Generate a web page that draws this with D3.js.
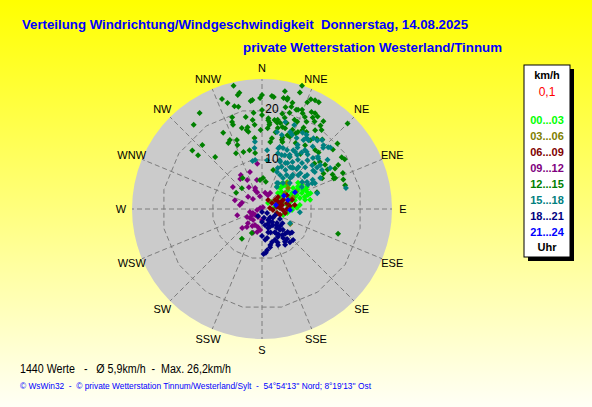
<!DOCTYPE html>
<html>
<head>
<meta charset="utf-8">
<script src="https://cdn.jsdelivr.net/npm/d3@7"></script>
<style>
  body { margin: 0; }
  svg { display: block; }
</style>
</head>
<body>
<div id="chart"></div>
<script>
// compass labels, clockwise from north
const directionLabels = ['N', 'NNE', 'NE', 'ENE', 'E', 'ESE', 'SE', 'SSE', 'S', 'SSW', 'SW', 'WSW', 'W', 'WNW', 'NW', 'NNW'];
const ringTicks = [10, 20];
const maxSpeed = 26;

const hourGroups = ['00...03', '03...06', '06...09', '09...12', '12...15', '15...18', '18...21', '21...24'];

// [direction in degrees, speed in km/h]
const points0003 = [
  [42, 5.9], [44, 6.6], [54, 6.4], [56, 7.5], [61, 8.2], [65, 9.0], [69, 9.6], [73, 9.6], [74, 8.9], [74, 7.9],
  [75, 6.8], [76, 5.8], [81, 5.1], [73, 4.2], [56, 4.3], [56, 5.0], [62, 6.8], [68, 7.5], [68, 8.6], [78, 8.8],
  [84, 7.6], [86, 6.2], [99, 5.1], [105, 3.1], [81, 2.6], [55, 2.4], [45, 1.7], [64, 10.0], [59, 9.3], [54, 8.9],
  [43, 7.4], [41, 5.5], [45, 4.5], [79, 9.8], [34, 5.4], [106, 4.4], [50, 5.2], [60, 5.6], [66, 6.1], [70, 7.0],
  [63, 7.9], [58, 8.5], [48, 7.0], [72, 10.2], [66, 9.6], [88, 7.0], [92, 6.0], [38, 6.4],
];
const points0306 = [
  [118, 6.4], [55, 5.6], [72, 5.9], [72, 3.8], [44, 7.2], [69, 6.6], [51, 6.7], [63, 7.6], [65, 4.7], [62, 3.0],
];
const points0609 = [
  [34, 2.2], [59, 2.3], [55, 3.2], [82, 3.0], [87, 3.6], [93, 4.2], [100, 4.7], [79, 4.1], [53, 4.0], [95, 2.2],
  [83, 1.6], [77, 5.1], [67, 4.6], [105, 3.1], [84, 5.6], [73, 6.3], [61, 5.7], [83, 6.6], [108, 3.8], [70, 4.0],
  [90, 5.0], [64, 3.5], [76, 3.3],
];
const points0912 = [
  [354, 9.1], [342, 7.8], [328, 8.0], [324, 7.4], [329, 5.1], [342, 4.4], [350, 5.9], [333, 6.5], [307, 7.3], [288, 5.7],
  [287, 4.2], [311, 3.7], [318, 2.7], [340, 4.0], [344, 3.5], [351, 2.6], [11, 3.3], [23, 3.0], [27, 3.6], [256, 2.5],
  [246, 2.0], [259, 1.0], [297, 0.4], [27, 0.4], [207, 1.8], [180, 2.2], [219, 2.8], [233, 3.0], [204, 3.5], [193, 3.7],
  [185, 4.2], [192, 4.7], [210, 3.9], [225, 4.0], [229, 1.8], [226, 5.5], [256, 5.1], [280, 4.5], [239, 2.3], [242, 3.4],
  [201, 5.1], [220, 4.7],
];
const points1215 = [
  [347, 25.3], [349, 23.7], [348, 23.3], [340, 23.4], [342, 22.3], [354, 21.7], [0, 22.8], [359, 22.2], [5, 22.7], [6, 22.5],
  [11, 24.0], [11, 22.6], [13, 22.8], [13, 22.4], [18, 25.9], [18, 24.5], [24, 24.0], [23, 23.2], [16, 22.1], [16, 21.3],
  [345, 21.3], [327, 22.9], [342, 19.3], [355, 19.3], [0, 19.8], [0, 18.8], [4, 18.2], [5, 17.3], [10, 18.1], [12, 19.5],
  [16, 20.0], [20, 21.1], [23, 20.8], [27, 21.8], [29, 21.9], [31, 21.6], [35, 21.4], [321, 21.7], [341, 18.4], [341, 17.8],
  [346, 16.7], [349, 16.1], [350, 16.6], [355, 16.9], [359, 15.8], [11, 16.5], [12, 17.6], [21, 17.0], [24, 16.6], [22, 16.0],
  [27, 17.7], [30, 17.8], [34, 19.0], [45, 24.2], [335, 15.2], [19, 15.6], [310, 18.2], [317, 17.5], [310, 16.7], [318, 14.0],
  [348, 12.0], [342, 12.0], [41, 18.4], [49, 20.0], [57, 19.0], [59, 19.3], [42, 15.9], [50, 18.5], [16, 8.1], [328, 7.3],
  [2, 6.2], [8, 5.5], [64, 15.7], [66, 17.7], [74, 17.3], [60, 14.2], [28, 24.2], [35, 20.4], [59, 15.3], [67, 15.6],
  [49, 13.9], [73, 11.5], [335, 12.3], [35, 13.4], [45, 16.0], [70, 17.3], [302, 6.1], [108, 16.0], [203, 5.2], [214, 7.2],
  [356, 5.8], [67, 15.9], [28, 11.8], [16, 14.4], [7, 13.5], [27, 14.8], [333, 17.1], [333, 14.8],
  [355, 21.9], [26, 24.2], [13, 20.9], [19, 21.0], [22, 21.4], [347, 21.0], [350, 18.7], [354, 17.9], [4, 17.8], [5, 16.9],
  [8, 18.0], [10, 17.5], [14, 18.8], [16, 17.9], [20, 19.0], [22, 18.8], [25, 20.3], [27, 19.6], [29, 20.9], [31, 20.4],
  [350, 15.7], [4, 16.2], [10, 15.6], [14, 16.9], [16, 16.8], [25, 17.0], [27, 18.3], [37, 19.8], [340, 14.7], [339, 13.7],
  [354, 14.3], [8, 14.3], [16, 14.9], [17, 14.0], [21, 15.5], [34, 15.4], [35, 16.8], [38, 17.8], [353, 11.3], [51, 14.9],
  [55, 15.4], [61, 16.7], [60, 17.6], [63, 13.5], [316, 5.8],
];
const points1518 = [
  [354, 13.5], [15, 18.0], [11, 15.7], [15, 15.3], [28, 17.3], [32, 16.8], [34, 16.6], [39, 17.6], [29, 14.7], [16, 12.9],
  [19, 12.9], [23, 12.8], [16, 11.6], [20, 11.5], [27, 12.2], [30, 13.2], [5, 11.8], [353, 12.3], [39, 16.1], [45, 17.3],
  [36, 14.6], [40, 14.2], [48, 18.4], [36, 12.2], [41, 12.2], [29, 10.5], [34, 10.1], [37, 10.3], [20, 10.4], [25, 9.3],
  [22, 8.0], [28, 7.7], [36, 8.4], [42, 8.4], [47, 9.9], [53, 10.7], [53, 12.8], [53, 13.8], [57, 14.3], [60, 11.7],
  [62, 13.2], [352, 9.9], [6, 9.8], [53, 16.4], [59, 15.9], [61, 9.1], [62, 10.4], [39, 6.7], [349, 9.8], [34, 7.5],
  [43, 8.8], [41, 10.6], [59, 10.5], [64, 11.8], [48, 15.1], [76, 17.3], [74, 11.5], [95, 7.6], [117, 6.3], [34, 5.3],
  [30, 6.0],
  [21, 18.0], [20, 16.4], [22, 16.0], [31, 17.3], [26, 15.8], [31, 16.1], [36, 17.5], [41, 18.3], [44, 17.7], [47, 18.1],
  [15, 12.6], [28, 13.3], [30, 14.2], [23, 11.7], [28, 11.8], [33, 12.9], [35, 13.8], [38, 14.5], [21, 10.1], [27, 10.3],
  [33, 11.2], [43, 13.3], [45, 14.4], [47, 15.3], [21, 8.8], [31, 9.1], [36, 10.2], [41, 11.1], [46, 12.0], [49, 13.3],
  [53, 14.6], [42, 9.2], [47, 10.5], [53, 11.3], [55, 12.9], [32, 6.1], [47, 7.6], [56, 9.7], [63, 11.3],
];
const points1821 = [
  [180, 0.6], [129, 1.3], [135, 2.3], [151, 2.5], [142, 3.3], [146, 3.9], [156, 3.9], [142, 4.8], [151, 5.3], [139, 5.5],
  [142, 6.6], [150, 6.4], [144, 7.2], [140, 7.8], [131, 7.4], [132, 6.9], [128, 7.6], [135, 5.9], [133, 5.0], [133, 4.1],
  [129, 2.8], [165, 4.8], [170, 5.9], [174, 6.2], [167, 7.4], [173, 8.3], [163, 6.9], [157, 6.7], [145, 8.0], [140, 8.7],
  [169, 3.3], [158, 3.2], [150, 5.6], [175, 8.8], [168, 7.8], [210, 1.6], [167, 1.8], [180, 2.6], [115, 2.9], [119, 4.1],
  [160, 5.0], [147, 6.0], [137, 6.8], [155, 7.4], [162, 4.0], [138, 4.4], [125, 5.0], [148, 2.9], [147, 8.5], [156, 7.9],
  [180, 5.4], [135, 8.8], [178, 9.0],
];
const points2124 = [
  [59, 5.1], [71, 5.5], [63, 7.4], [74, 2.9], [92, 5.6],
];

const groupPoints = [points0003, points0306, points0609, points0912, points1215, points1518, points1821, points2124];
const groupColors = ['#00ff00', '#808000', '#800000', '#800080', '#008000', '#008080', '#000080', '#0000ff'];

const footerStats = '1440 Werte   -   Ø 5,9km/h  -  Max. 26,2km/h';
const footerCopy = '© WsWin32  -  © private Wetterstation Tinnum/Westerland/Sylt  -  54°54\'13\'\' Nord; 8°19\'13\'\' Ost';

const width = 592;
const height = 407;
const cx = 262;
const cy = 209;
const outerRadius = 130;

const svg = d3.select('#chart')
  .append('svg')
  .attr('width', width)
  .attr('height', height)
  .style('font-family', '"Liberation Sans", Arial, sans-serif');

// background gradient, yellow to pale
const defs = svg.append('defs');
const bg = defs.append('linearGradient')
  .attr('id', 'bg')
  .attr('x1', 0).attr('y1', 0).attr('x2', 0).attr('y2', 1);
bg.append('stop').attr('offset', '0%').attr('stop-color', '#ffff00');
bg.append('stop').attr('offset', '50%').attr('stop-color', '#ffff7a');
bg.append('stop').attr('offset', '100%').attr('stop-color', '#fffff6');

svg.append('rect')
  .attr('width', width)
  .attr('height', height)
  .attr('fill', 'url(#bg)');

// titles
svg.append('text')
  .attr('x', 22)
  .attr('y', 29)
  .attr('fill', '#0000ff')
  .style('font-size', '13px')
  .style('font-weight', 'bold')
  .style('white-space', 'pre')
  .attr('textLength', 446)
  .attr('lengthAdjust', 'spacingAndGlyphs')
  .text('Verteilung Windrichtung/Windgeschwindigkeit  Donnerstag, 14.08.2025');

svg.append('text')
  .attr('x', 243)
  .attr('y', 52)
  .attr('fill', '#0000ff')
  .style('font-size', '13px')
  .style('font-weight', 'bold')
  .attr('textLength', 259)
  .attr('lengthAdjust', 'spacingAndGlyphs')
  .text('private Wetterstation Westerland/Tinnum');

/**
 * scales
 */
const r = d3.scaleLinear()
  .domain([0, maxSpeed])
  .range([0, outerRadius]);

const angle = d3.scaleLinear()
  .domain([0, 360])
  .range([0, 2 * Math.PI]);

const px = (dir, speed) => cx + r(speed) * Math.sin(angle(dir));
const py = (dir, speed) => cy - r(speed) * Math.cos(angle(dir));

const rose = svg.append('g');

rose.append('circle')
  .attr('cx', cx)
  .attr('cy', cy)
  .attr('r', r(maxSpeed))
  .attr('fill', '#cbcbcb');

// grid: spokes and rings
const spokeAngles = directionLabels.map((d, i) => i * 22.5);

rose.selectAll('.spoke')
  .data(spokeAngles)
  .enter()
  .append('line')
  .attr('class', 'spoke')
  .attr('x1', (d) => px(d, (d % 90 === 0) ? 0 : 3))
  .attr('y1', (d) => py(d, (d % 90 === 0) ? 0 : 3))
  .attr('x2', (d) => px(d, maxSpeed))
  .attr('y2', (d) => py(d, maxSpeed))
  .attr('stroke', '#7c7c7c')
  .attr('stroke-dasharray', '5,3');

rose.selectAll('.ring')
  .data(ringTicks)
  .enter()
  .append('path')
  .attr('class', 'ring')
  .attr('d', (v) => {
    const pts = spokeAngles.map((a) => [px(a + 11.25, v), py(a + 11.25, v)]);
    return d3.line()(pts) + 'Z';
  })
  .attr('fill', 'none')
  .attr('stroke', '#7c7c7c')
  .attr('stroke-dasharray', '5,3');

// points, drawn in time order
const diamond = 'M0,-3L3,0L0,3L-3,0Z';

rose.selectAll('.hourGroup')
  .data(groupPoints)
  .enter()
  .append('g')
  .attr('class', 'hourGroup')
  .attr('fill', (d, i) => groupColors[i])
  .selectAll('path')
  .data((d) => d)
  .enter()
  .append('path')
  .attr('d', diamond)
  .attr('transform', (d) => `translate(${px(d[0], d[1])},${py(d[0], d[1])})`);

// ring labels
rose.selectAll('.ringLabel')
  .data(ringTicks)
  .enter()
  .append('text')
  .attr('class', 'ringLabel')
  .attr('x', cx + 10)
  .attr('y', (v) => cy - r(v) + 4)
  .attr('text-anchor', 'middle')
  .style('font-size', '12px')
  .text((v) => v);

// compass labels
svg.selectAll('.dirLabel')
  .data(directionLabels)
  .enter()
  .append('text')
  .attr('class', 'dirLabel')
  .attr('x', (d, i) => px(i * 22.5, 28.2))
  .attr('y', (d, i) => py(i * 22.5, 28.2) + 4)
  .attr('text-anchor', 'middle')
  .style('font-size', '11px')
  .text((d) => d);

/**
 * legend
 */
const legend = svg.append('g').attr('transform', 'translate(524,65)');
legend.append('rect')
  .attr('x', 4).attr('y', 4)
  .attr('width', 46).attr('height', 192)
  .attr('fill', '#000');
legend.append('rect')
  .attr('width', 46).attr('height', 192)
  .attr('fill', '#fff')
  .attr('stroke', '#000');

const legendText = (txt, y, color) => legend.append('text')
  .attr('x', 23)
  .attr('y', y)
  .attr('text-anchor', 'middle')
  .attr('fill', color)
  .style('font-size', '11px')
  .style('font-weight', 'bold')
  .text(txt);

legendText('km/h', 14, '#000');
legendText('0,1', 31, '#ff0000').style('font-weight', 'normal').style('font-size', '12px');
hourGroups.forEach((g, i) => legendText(g, 59 + i * 16, groupColors[i]));
legendText('Uhr', 186, '#000');

// footer
svg.append('text')
  .attr('x', 20)
  .attr('y', 373)
  .style('font-size', '12px')
  .style('white-space', 'pre')
  .attr('textLength', 211)
  .attr('lengthAdjust', 'spacingAndGlyphs')
  .text(footerStats);

svg.append('text')
  .attr('x', 20)
  .attr('y', 389)
  .attr('fill', '#0000ff')
  .style('font-size', '9px')
  .style('white-space', 'pre')
  .attr('textLength', 351)
  .attr('lengthAdjust', 'spacingAndGlyphs')
  .text(footerCopy);
</script>
</body>
</html>
